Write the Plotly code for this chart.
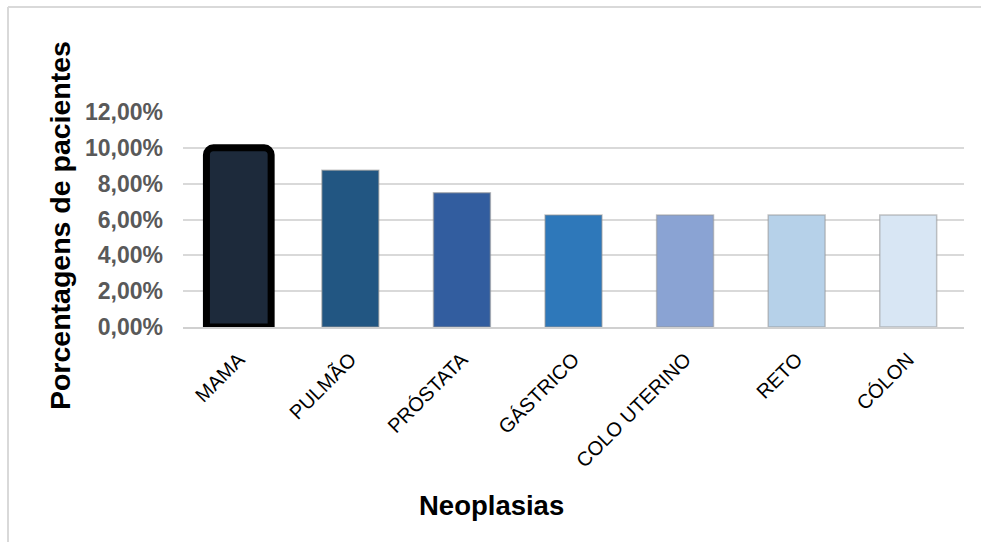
import plotly.graph_objects as go

categories = ["MAMA", "PULMÃO", "PRÓSTATA", "GÁSTRICO", "COLO UTERINO", "RETO", "CÓLON"]
values = [0.10, 0.0875, 0.075, 0.0625, 0.0625, 0.0625, 0.0625]
colors = ["#1d2a3b", "#225682", "#325d9f", "#2e78ba", "#8aa3d3", "#b6d1e9", "#d8e6f4"]
y_ticks = [0, 0.02, 0.04, 0.06, 0.08, 0.10, 0.12]

fig = go.Figure()
# highlighted first bar (thick black rounded outline)
fig.add_trace(go.Bar(
    x=categories[:1], y=values[:1], width=0.58,
    marker=dict(color=colors[:1], line=dict(color="black", width=7), cornerradius=7),
    hoverinfo="x+y",
))
fig.add_trace(go.Bar(
    x=categories[1:], y=values[1:],
    marker=dict(color=colors[1:], line=dict(color="rgba(150,150,150,0.55)", width=1.5)),
    hoverinfo="x+y",
))

fig.update_layout(
    width=981, height=542,
    margin=dict(l=183, r=17, t=112, b=215),
    barmode="overlay",
    bargap=0.49,
    showlegend=False,
    plot_bgcolor="white",
    paper_bgcolor="white",
    separators=",.",
    font=dict(family="Liberation Sans, Arial, sans-serif", color="black"),
    xaxis=dict(
        categoryorder="array", categoryarray=categories,
        tickangle=-45,
        tickfont=dict(size=20, color="black"),
        ticklabelstandoff=11,
        showgrid=False,
        showline=True, linecolor="#d0d0d0", linewidth=2,
        ticks="",
    ),
    yaxis=dict(
        range=[0, 0.12],
        tickvals=y_ticks,
        tickformat=".2%",
        tickfont=dict(size=23, color="#595959", family="Liberation Sans, Arial, sans-serif", weight="bold"),
        showgrid=True, gridcolor="#d9d9d9", gridwidth=1.5,
        zeroline=False,
        showline=False,
        ticklabelstandoff=19,
        ticks="",
    ),
    annotations=[
        dict(text="<b>Porcentagens de pacientes</b>", xref="paper", yref="paper",
             x=-0.1575, y=0.474, textangle=-90, showarrow=False,
             xanchor="center", yanchor="middle",
             font=dict(size=28.5, color="black")),
        dict(text="<b>Neoplasias</b>", xref="paper", yref="paper",
             x=0.395, y=-0.828, showarrow=False,
             xanchor="center", yanchor="middle",
             font=dict(size=27.5, color="black")),
    ],
    shapes=[
        dict(type="line", xref="paper", yref="paper",
             x0=(8 - 183) / 781, x1=(8 - 183) / 781, y0=(327 - 7) / 215, y1=-1.2,
             line=dict(color="#d9d9d9", width=2)),
        dict(type="line", xref="paper", yref="paper",
             x0=(8 - 183) / 781, x1=1.1, y0=(327 - 7) / 215, y1=(327 - 7) / 215,
             line=dict(color="#d9d9d9", width=2)),
    ],
)

fig.write_html("out.html")
